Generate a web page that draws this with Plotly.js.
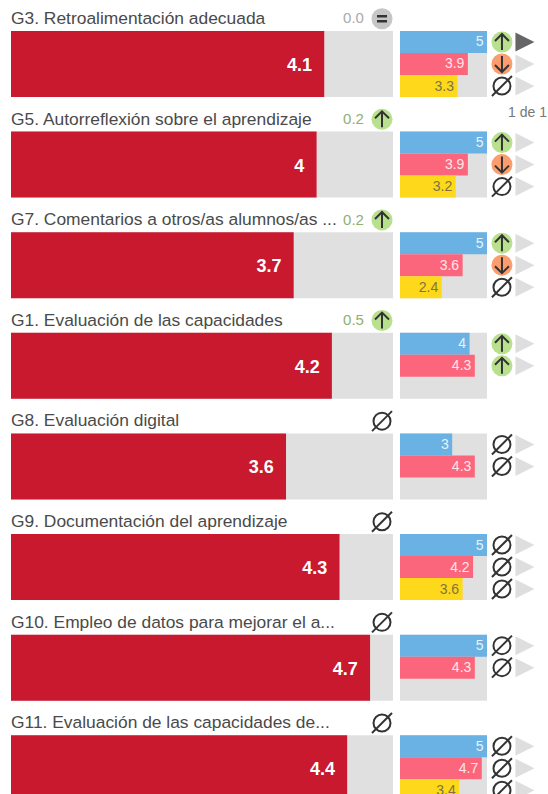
<!DOCTYPE html>
<html><head><meta charset="utf-8">
<script src="https://cdn.plot.ly/plotly-3.0.1.min.js"></script>
<style>html,body{margin:0;padding:0;background:#fff}#c{width:548px;height:794px}</style></head>
<body><div id="c"></div>
<script>
const titles=["G3. Retroalimentación adecuada","G5. Autorreflexión sobre el aprendizaje","G7. Comentarios a otros/as alumnos/as ...","G1. Evaluación de las capacidades","G8. Evaluación digital","G9. Documentación del aprendizaje","G10. Empleo de datos para mejorar el a...","G11. Evaluación de las capacidades de..."];
const mainValues=[4.1,4,3.7,4.2,3.6,4.3,4.7,4.4];
const blueValues=[5,5,5,4,3,5,5,5];
const pinkValues=[3.9,3.9,3.6,4.3,4.3,4.2,4.3,4.7];
const yellowValues=[3.3,3.2,2.4,null,null,3.6,null,3.4];
const deltas=["0.0","0.2","0.2","0.5",null,null,null,null];
const deltaIcons=["eq","up","up","up","none","none","none","none"];
const blueIcons=["up","up","up","up","none","none","none","none"];
const pinkIcons=["down","down","down","up","none","none","none","none"];
const yellowIcons=["none","none","none",null,null,"none",null,"none"];
const scaleMax=5;

const rows=titles.map((_,i)=>i);
const STEP=0.2187, HDR=-0.45;
const FONT='"Liberation Sans",Arial,sans-serif';
const xIcon=5.86, xTri=7.15, xHdr=4.856, xDelta=4.62;
const RED='#c8192f',TRACK='#e0e0e0',BLUE='#6ab2e4',PINK='#fc667c',YEL='#fdd81b';
const CIRC={up:'#b8e08e',down:'#fb9d6e',eq:'#c6c6c6'};
const GLYPH={up:'M0,-8L0,8M-7,1L0,8L7,1',down:'M0,8L0,-8M-7,-1L0,-8L7,-1',eq:'M-5,2.5L5,2.5M-5,-2.5L5,-2.5'};
const TRI='M-9,9.5L10,0L-9,-9.5Z';
const INK='#333';
let data=[],shapes=[];
function bar(x,y,color,w,axis){data.push({type:'bar',orientation:'h',x,y,width:w,xaxis:axis,yaxis:'y',marker:{color,line:{width:0}},hoverinfo:'skip'});}
bar(rows.map(()=>scaleMax),rows,TRACK,0.656,'x');
bar(mainValues,rows,RED,0.656,'x');
bar(rows.map(()=>scaleMax),rows,TRACK,0.656,'x2');
bar(blueValues,rows.map(i=>i-STEP),BLUE,STEP,'x2');
bar(pinkValues,rows,PINK,STEP,'x2');
bar(yellowValues,rows.map(i=>i+STEP),YEL,STEP,'x2');

function txt(x,y,t,size,color,axis,pos,fam,weight){data.push({type:'scatter',mode:'text',x,y,text:t,xaxis:axis,yaxis:'y',textposition:pos,cliponaxis:false,textfont:{size,color,family:fam||FONT,weight:weight||400},hoverinfo:'skip'});}
txt(mainValues.map(v=>v-0.16),rows.map(i=>i+0.025),mainValues.map(String),18,'#fff','x','middle left',FONT,700);
function small(vals,off,color){
  const xs=[],ys=[],ts=[];
  vals.forEach((v,i)=>{if(v!=null){xs.push(v-0.2);ys.push(i+off+0.01);ts.push(String(v));}});
  txt(xs,ys,ts,14,color,'x2','middle left');
}
small(blueValues,-STEP,'#e6f2fb');small(pinkValues,0,'#fde6ea');small(yellowValues,STEP,'#7d7440');
txt(rows.map(()=>0),rows.map(i=>i+HDR+0.01),titles,17.4,'#4a4a4a','x','middle right');
deltas.forEach((d,i)=>{if(d!=null)txt([xDelta],[i+HDR+0.01],[d],15,d==='0.0'?'#a9a9a9':'#8fb070','x','middle left');});

function icons(axis,xv,list){
  const pts=list.filter(l=>l.kind!=null);
  const c=pts.filter(p=>p.kind!=='none');
  data.push({type:'scatter',mode:'markers',xaxis:axis,yaxis:'y',x:c.map(()=>xv),y:c.map(p=>p.y),cliponaxis:false,marker:{size:21,color:c.map(p=>CIRC[p.kind]),line:{width:0}},hoverinfo:'skip'});
  c.forEach(p=>shapes.push({type:'path',xref:axis,yref:'y',xsizemode:'pixel',ysizemode:'pixel',xanchor:xv,yanchor:p.y,path:GLYPH[p.kind],line:{color:INK,width:p.kind==='eq'?2.6:2},layer:'above'}));
  const n=pts.filter(p=>p.kind==='none');
  data.push({type:'scatter',mode:'markers',xaxis:axis,yaxis:'y',x:n.map(()=>xv),y:n.map(p=>p.y),cliponaxis:false,marker:{symbol:'circle-open',size:17,color:INK,line:{width:2,color:INK}},hoverinfo:'skip'});
  data.push({type:'scatter',mode:'markers',xaxis:axis,yaxis:'y',x:n.map(()=>xv),y:n.map(p=>p.y),cliponaxis:false,marker:{symbol:'line-ne-open',size:20,color:INK,line:{width:2,color:INK}},hoverinfo:'skip'});
}
icons('x',xHdr,deltaIcons.map((k,i)=>({kind:k,y:i+HDR})));
const small3=[];
[[blueIcons,-STEP],[pinkIcons,0],[yellowIcons,STEP]].forEach(([a,o])=>a.forEach((k,i)=>small3.push({kind:k,y:i+o})));
icons('x2',xIcon,small3);
small3.filter(p=>p.kind!=null).forEach((p,i)=>shapes.push({type:'path',xref:'x2',yref:'y',xsizemode:'pixel',ysizemode:'pixel',xanchor:xTri,yanchor:p.y,path:TRI,fillcolor:i===0?'#666666':'#dedede',line:{width:0},layer:'above'}));

const ax={showgrid:false,zeroline:false,showticklabels:false,ticks:'',showline:false,fixedrange:true};
const layout={width:548,height:794,margin:{l:0,r:0,t:0,b:0},showlegend:false,barmode:'overlay',paper_bgcolor:'#fff',plot_bgcolor:'#fff',font:{family:FONT},shapes,
 xaxis:{...ax,domain:[11/548,393/548],range:[0,scaleMax]},
 xaxis2:{...ax,domain:[400/548,1],range:[0,148/17.4],anchor:'y'},
 yaxis:{...ax,domain:[0,1],range:[7.256,-0.636]},
 annotations:[{xref:'x2',yref:'y',x:8.45,y:0.477,xshift:2,text:'1 de 1',showarrow:false,xanchor:'right',yanchor:'middle',font:{size:14,color:'#777',family:FONT}}]};
Plotly.newPlot('c',data,layout,{displayModeBar:false,staticPlot:true});
</script></body></html>
